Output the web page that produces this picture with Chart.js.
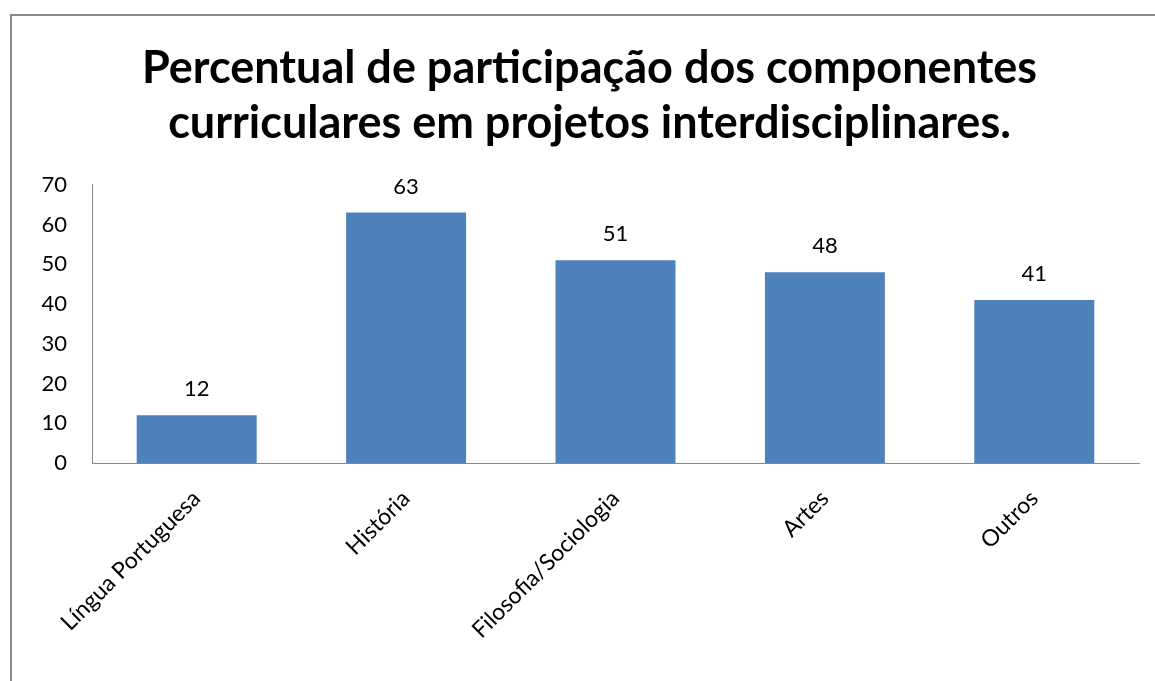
<!DOCTYPE html>
<html>
<head>
<meta charset="utf-8">
<script src="https://cdn.jsdelivr.net/npm/chart.js@4"></script>
<style>
  html, body { margin: 0; padding: 0; background: #fff; }
  #wrap { width: 1155px; height: 681px; }
</style>
</head>
<body>
<div id="wrap"><canvas id="chart" width="1155" height="681"></canvas></div>
<script>
const categories = ['Língua Portuguesa', 'História', 'Filosofia/Sociologia', 'Artes', 'Outros'];
const values = [12, 63, 51, 48, 41];
const titleLines = ['Percentual de participação dos componentes', 'curriculares em projetos interdisciplinares.'];

const FONT = 'Lato, "Open Sans", sans-serif';

// frame around the chart (only left and top edges are visible in the picture)
const framePlugin = {
    id: 'frame',
    beforeDraw(chart) {
        const ctx = chart.ctx;
        ctx.save();
        ctx.strokeStyle = '#888888';
        ctx.lineWidth = 2;
        ctx.beginPath();
        ctx.moveTo(11, 681);
        ctx.lineTo(11, 15);
        ctx.lineTo(1155, 15);
        ctx.stroke();
        ctx.restore();
    }
};

// value labels above each bar
const valueLabels = {
    id: 'valueLabels',
    afterDatasetsDraw(chart) {
        const ctx = chart.ctx;
        const meta = chart.getDatasetMeta(0);
        ctx.save();
        ctx.font = '22px ' + FONT;
        ctx.fillStyle = '#000';
        ctx.textAlign = 'center';
        ctx.textBaseline = 'bottom';
        meta.data.forEach((bar, i) => {
            ctx.fillText(values[i], bar.x, bar.y - 15);
        });
        ctx.restore();
    }
};

const ctx = document.getElementById('chart').getContext('2d');
new Chart(ctx, {
    type: 'bar',
    data: {
        labels: categories,
        datasets: [{
            data: values,
            backgroundColor: '#4F81BD',
            borderWidth: 0,
            categoryPercentage: 0.573,
            barPercentage: 1
        }]
    },
    options: {
        responsive: false,
        animation: false,
        layout: { padding: { left: 40, right: 16, top: 0, bottom: 0 } },
        plugins: {
            legend: { display: false },
            tooltip: { enabled: false },
            title: {
                display: true,
                text: titleLines,
                color: '#000',
                font: { family: FONT, size: 45, weight: 'bold', lineHeight: 1.22 },
                padding: { top: 41, bottom: 34 }
            }
        },
        scales: {
            y: {
                min: 0,
                max: 70,
                ticks: {
                    stepSize: 10,
                    color: '#000',
                    padding: 25,
                    font: { family: FONT, size: 22 }
                },
                grid: { display: false, drawTicks: false },
                border: { display: true, color: '#888888', width: 1 },
                afterFit(scale) { scale.width = 52; }
            },
            x: {
                ticks: {
                    color: '#000',
                    minRotation: 45,
                    maxRotation: 45,
                    padding: 22,
                    font: { family: FONT, size: 23 }
                },
                grid: { display: false, drawTicks: false },
                border: { display: true, color: '#888888', width: 1 },
                afterFit(scale) { scale.height = 218; }
            }
        }
    },
    plugins: [framePlugin, valueLabels]
});
</script>
</body>
</html>
